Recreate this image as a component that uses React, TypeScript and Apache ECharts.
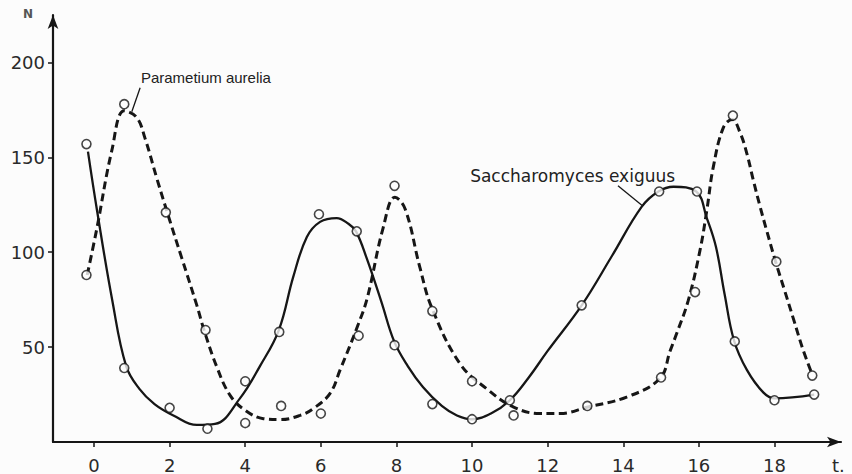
import React, { useEffect, useRef } from "react";
import * as echarts from "echarts";

// Axis ticks
const xTickValues = [0, 2, 4, 6, 8, 10, 12, 14, 16, 18];
const yTickValues = [50, 100, 150, 200];

// Observed points (open circles)
const sacchObsT = [-0.2, 0.8, 2, 3, 4, 4.9, 5.95, 6.95, 7.95, 8.95, 10, 11, 12.9, 14.95, 15.95, 16.95, 18, 19.05];
const sacchObsN = [157, 39, 18, 7, 32, 58, 120, 111, 51, 20, 12, 22, 72, 132, 132, 53, 22, 25];
const paramObsT = [-0.2, 0.8, 1.9, 2.95, 4, 4.95, 6, 7, 7.95, 8.95, 10, 11.1, 13.05, 15, 15.9, 16.9, 18.05, 19];
const paramObsN = [88, 178, 121, 59, 10, 19, 15, 56, 135, 69, 32, 14, 19, 34, 79, 172, 95, 35];

// Fitted curves
const sacchCurveT = [-0.16, 0.08, 0.48, 0.85, 1.2, 1.6, 2.1, 2.72, 3.2, 3.86, 4.39, 4.89, 5.27, 5.63, 5.98, 6.42, 6.73, 6.93, 7.21, 7.6, 7.94, 8.3, 8.7, 9.2, 9.6, 10, 10.5, 11, 11.5, 12, 12.9, 13.7, 14.49, 14.93, 15.33, 15.93, 16.21, 16.45, 16.68, 16.93, 17.27, 17.71, 18, 19.05];
const sacchCurveN = [153, 122, 75, 40, 28, 20, 14, 9, 9.5, 23, 40, 59, 87, 108, 116, 118, 115, 111, 97, 74, 53, 40, 29, 19, 14, 12, 15, 22, 34, 48, 72, 98, 124, 132, 134.5, 132, 118, 103, 78, 53.5, 38, 26, 23, 25];
const paramCurveT = [-0.18, 0.07, 0.47, 0.8, 1.13, 1.35, 1.66, 2.0, 2.32, 2.72, 2.91, 3.25, 3.6, 4.0, 4.48, 4.92, 5.45, 5.8, 6.24, 6.51, 6.99, 7.23, 7.65, 7.96, 8.23, 8.62, 8.93, 9.68, 10.39, 11.1, 11.8, 12.33, 13.04, 14.09, 14.97, 15.24, 15.41, 15.72, 16.03, 16.21, 16.38, 16.65, 16.88, 17.09, 17.27, 17.44, 17.62, 17.8, 18.03, 18.25, 18.5, 18.75, 19.0];
const paramCurveN = [88, 112, 153.5, 174.5, 171, 160, 139, 117, 97, 72, 59, 39.5, 24.6, 16.7, 12.3, 11.8, 14, 17.6, 25.5, 38, 62, 76, 113, 129, 122.8, 92, 71, 41.3, 28, 18.4, 15, 15, 18.3, 23.7, 33.5, 48, 57, 74.6, 101, 122, 144.7, 165.8, 170, 163, 152, 138, 124, 111, 95, 81, 65, 49, 35.5];

const pairs = (t: number[], n: number[]) => t.map((v, i) => [v, n[i]]);

const INK = "#161616";
const FONT = "DejaVu Sans";

export default function App() {
  const ref = useRef<HTMLDivElement>(null);
  useEffect(() => {
    if (!ref.current) return;
    const chart = echarts.init(ref.current, null, { renderer: "svg" });
    chart.setOption({
      animation: false,
      backgroundColor: "#fcfcfc",
      grid: { left: 53, right: 11, top: 15, bottom: 32 },
      xAxis: {
        type: "value",
        min: -1.085,
        max: 19.76,
        splitLine: { show: false },
        axisLine: {
          onZero: false,
          lineStyle: { color: INK, width: 2.2 },
          symbol: ["none", "arrow"],
          symbolSize: [8, 14],
        },
        axisTick: { show: true, customValues: xTickValues, length: 5, lineStyle: { color: INK, width: 1.5 } },
        axisLabel: {
          customValues: xTickValues,
          margin: 14,
          fontSize: 18,
          fontFamily: FONT,
          color: "#2a2a2a",
        },
      },
      yAxis: {
        type: "value",
        min: 0,
        max: 225,
        splitLine: { show: false },
        axisLine: {
          show: true,
          onZero: false,
          lineStyle: { color: INK, width: 2.2 },
          symbol: ["none", "arrow"],
          symbolSize: [8, 14],
        },
        axisTick: { show: true, customValues: yTickValues, length: 5, lineStyle: { color: INK, width: 1.5 } },
        axisLabel: {
          customValues: yTickValues,
          margin: 8,
          fontSize: 18,
          fontFamily: FONT,
          color: "#2a2a2a",
        },
      },
      series: [
        {
          name: "Saccharomyces exiguus",
          type: "line",
          data: pairs(sacchCurveT, sacchCurveN),
          smooth: 0.4,
          showSymbol: false,
          lineStyle: { color: INK, width: 2.3 },
          z: 2,
        },
        {
          name: "Paramecium aurelia",
          type: "line",
          data: pairs(paramCurveT, paramCurveN),
          smooth: 0.4,
          showSymbol: false,
          lineStyle: { color: INK, width: 3, type: [8, 4.5] },
          z: 2,
        },
        {
          type: "scatter",
          data: pairs(sacchObsT, sacchObsN),
          symbol: "circle",
          symbolSize: 9,
          itemStyle: { color: "#fcfcfc", borderColor: INK, borderWidth: 1.6 },
          z: 3,
        },
        {
          type: "scatter",
          data: pairs(paramObsT, paramObsN),
          symbol: "circle",
          symbolSize: 9,
          itemStyle: { color: "#fcfcfc", borderColor: INK, borderWidth: 1.6 },
          z: 3,
        },
      ],
    });

    const px = (p: number[]) => chart.convertToPixel({ gridIndex: 0 }, p) as number[];
    const pText = px([1.24, 192]);
    const pL1 = px([1.0, 174]);
    const pL2 = px([1.22, 186.7]);
    const sText = px([9.95, 140.4]);
    const sL1 = px([13.86, 135]);
    const sL2 = px([14.5, 124.6]);

    chart.setOption({
      graphic: [
        {
          type: "text",
          left: 23,
          top: 8,
          style: { text: "N", font: `bold 12px ${FONT}`, fill: "#555" },
        },
        {
          type: "text",
          left: 832,
          top: 456,
          style: { text: "t.", font: `18px ${FONT}`, fill: "#2a2a2a" },
        },
        {
          type: "text",
          x: pText[0],
          y: pText[1],
          style: { text: "Parametium aurelia", font: `15px "Liberation Sans"`, fill: "#222", textVerticalAlign: "middle", textAlign: "left" },
        },
        {
          type: "line",
          shape: { x1: pL1[0], y1: pL1[1], x2: pL2[0], y2: pL2[1] },
          style: { stroke: INK, lineWidth: 1.3 },
        },
        {
          type: "text",
          x: sText[0],
          y: sText[1],
          style: { text: "Saccharomyces exiguus", font: `17px ${FONT}`, fill: "#222", textVerticalAlign: "middle", textAlign: "left" },
        },
        {
          type: "line",
          shape: { x1: sL1[0], y1: sL1[1], x2: sL2[0], y2: sL2[1] },
          style: { stroke: INK, lineWidth: 1.3 },
        },
      ],
    });

    return () => chart.dispose();
  }, []);
  return (
    <div
      ref={ref}
      style={{ position: "absolute", left: 0, top: 0, width: 852, height: 474 }}
    />
  );
}
